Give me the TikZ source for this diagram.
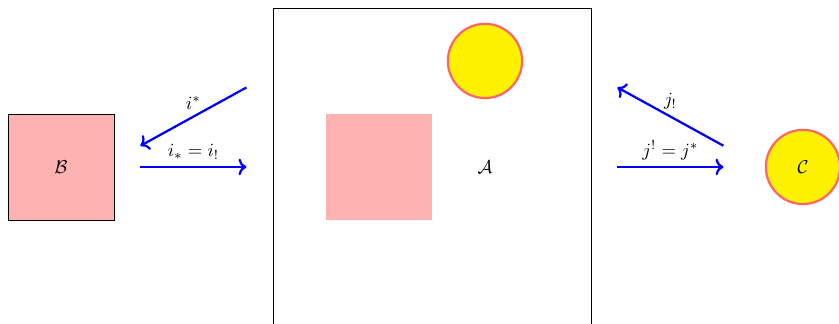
\documentclass[tikz,border=0pt]{standalone}
\usepackage{amsmath}
\usetikzlibrary{arrows.meta, positioning}

\begin{document}
\begin{tikzpicture}[
    patch/.style={rectangle, fill=red!30, minimum size=2cm, inner sep=0pt},
    spot/.style={circle, draw=red!60, fill=yellow, very thick, minimum size=1.4cm, inner sep=0pt},
    functor/.style={draw=blue, very thick, ->}
]
\useasboundingbox (-9.15,-2.96) rectangle (6.68,3.15);

% Categories
\node (A) at (0,0) {$\mathcal{A}$};
\node[draw, minimum width=6cm, minimum height=6cm, inner sep=0pt] (frame) at (-1,0) {};
\node[patch] (sub) at (-2,0) {};
\node[spot] (pt) at (0,2) {};
\node[patch, draw=black] (B) at (-8,0) {$\mathcal{B}$};
\node[spot] (C) at (6,0) {$\mathcal{C}$};

% Ends of the arrows
\coordinate (iL) at (-6.5,0);
\coordinate (iR) at (-4.5,0);
\coordinate (iLu) at (-6.5,0.4);
\coordinate (iRu) at (-4.5,1.5);
\coordinate (jL) at (2.5,0);
\coordinate (jR) at (4.5,0);
\coordinate (jLu) at (2.5,1.5);
\coordinate (jRu) at (4.5,0.4);

% Functors
\path [functor] (iRu) -- node[above] {$i^*$} (iLu);
\path [functor] (iL) -- node[above] {$i_*=i_!$} (iR);
\path [functor] (jRu) -- node[above] {$j_!$} (jLu);
\path [functor] (jL) -- node[above] {$j^!=j^*$} (jR);

\end{tikzpicture}
\end{document}
